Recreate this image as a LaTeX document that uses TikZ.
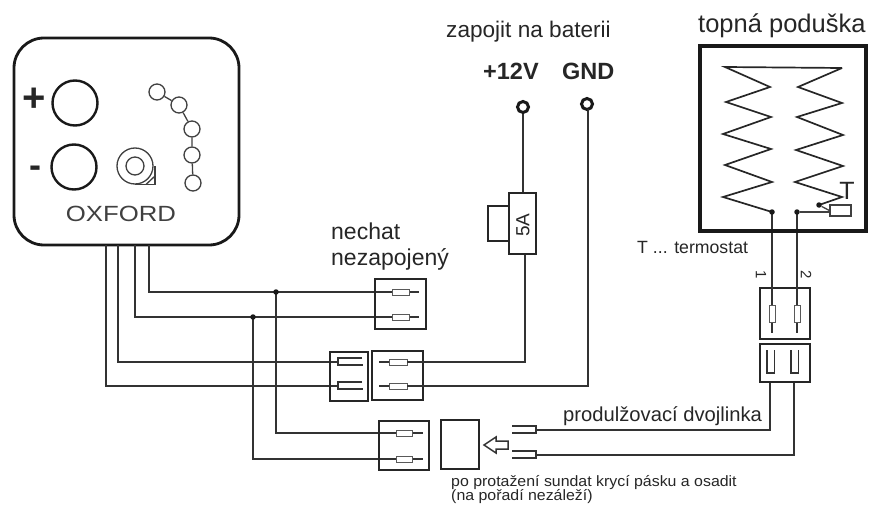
\documentclass[tikz,border=0pt]{standalone}
\usepackage{fontspec}
\setmainfont{Liberation Sans}
\newcommand{\fsz}[1]{\fontsize{#1}{#1}\selectfont}
\tikzset{
  x=1pt,y=-1pt,
  wire/.style={line width=1.5pt,draw=black!80},
  boxp/.style={line width=1.7pt,draw=black!85,fill=none},
  term/.style={line width=1pt,draw=black!65,fill=white},
  txt/.style={inner sep=0pt,text=black!85},
  lbl/.style={inner sep=0pt,text=black!85,anchor=base west},
  dotn/.style={circle,fill=black!90,inner sep=0pt,minimum size=5.5pt},
  ring/.style={circle,draw=black!90,line width=3pt,inner sep=0pt,minimum size=11pt},
  thin/.style={line width=1.3pt,draw=black!75},
  coil/.style={line width=1.7pt,draw=black!85,line join=miter},
}
\begin{document}
\begin{tikzpicture}
\useasboundingbox (0,0) rectangle (870,508);
% OXFORD unit
\draw[line width=2.8pt,draw=black!90,rounded corners=30pt] (14,38) rectangle (239,245);
\draw[line width=2.4pt,draw=black!90] (75,103) circle (22.5);
\draw[line width=2.4pt,draw=black!90] (74,167) circle (22.5);
\node[txt,font=\bfseries\fsz{40}] at (34,100) {+};
\node[txt,font=\bfseries\fsz{36}] at (35,172) {-};
\draw[thin] (135,166) circle (18);
\draw[thin] (135,166) circle (9);
\draw[thin] (135,184.5) -- (155,184.5) -- (155,166);
\draw[thin] (146,184.5) -- (155,176);
\foreach \n/\x/\y in {c1/157/92,c2/179/105,c3/192/129,c4/192/155,c5/193/183}
  \node[circle,draw=black!75,line width=1.3pt,inner sep=0pt,minimum size=16pt] (\n) at (\x,\y) {};
\draw[thin] (c1)--(c2) (c2)--(c3) (c3)--(c4) (c4)--(c5);
\node[txt,font=\fsz{22},xscale=1.17,text=black!75] (ox) at (121,214) {OXFORD};
% wires from unit
\coordinate (j1) at (276,292);
\coordinate (j2) at (253,317);
\draw[wire] (149,245) |- (392,292);
\draw[wire] (135,245) |- (392,317);
\draw[wire] (118,245) |- (338,362);
\draw[wire] (106,245) |- (338,386);
\draw[wire] (j1) |- (396,433);
\draw[wire] (j2) |- (396,459);
\node[dotn] at (j1) {};
\node[dotn] at (j2) {};
% connector 1
\draw[boxp] (375,279) rectangle (426,329);
\foreach \y in {292,317}{
  \draw[wire] (392,\y) -- (419,\y);
  \draw[term] (392,\y-3) rectangle (409,\y+3);
}
% connector 2
\draw[boxp] (330,352) rectangle (368,401);
\draw[boxp] (372,351) rectangle (423,400);
\foreach \y in {362,386}{
  \draw[wire] (362,\y-4) -- (338,\y-4) -- (338,\y+3) -- (363,\y+3);
  \draw[wire] (379,\y) -- (389,\y);
  \draw[term] (389,\y-3) rectangle (407,\y+3);
}
\draw[wire] (407,362) -| (525,254);
\draw[wire] (407,386) -| (588,109);
% connector 3
\draw[boxp] (379,421) rectangle (429,470);
\foreach \y in {433,459}{
  \draw[wire] (412,\y) -- (423,\y);
  \draw[term] (396,\y-3) rectangle (412,\y+3);
}
\draw[boxp] (441,420) rectangle (479,469);
% hollow arrow
\draw[wire] (484,445) -- (496,437) -- (496,441) -- (508,441) -- (508,449) -- (496,449) -- (496,453) -- cycle;
% loose fork ends
\foreach \y in {426,451}{
  \draw[wire] (512,\y) -- (536,\y) -- (536,\y+7) -- (512,\y+7);
}
\draw[wire] (536,430) -| (770,382);
\draw[wire] (536,455) -| (794,382);
% terminals
\node[ring] (t12) at (523,107) {};
\node[ring] (tg) at (587,104) {};
\draw[wire] (t12) -- (523,193);
\draw[wire] (tg) -- (588,109);
% fuse
\draw[boxp,line width=1.3pt] (488,206) rectangle (509,241);
\draw[boxp,line width=1.3pt] (509,193) rectangle (536,254);
\node[txt,font=\fsz{19},rotate=90] at (523,225) {5A};
% heating pad connectors
\draw[boxp] (760,288) rectangle (810,339);
\draw[boxp] (760,344) rectangle (810,382);
\foreach \x in {772,797}{
  \draw[wire] (\x,212) -- (\x,333);
  \draw[term] (\x-3,305) rectangle (\x+3,322);
}
\foreach \x in {767,791}{
  \draw[wire] (\x,350) -- (\x,373) -- (\x+7.5,373) -- (\x+7.5,350);
}
% pad
\draw[line width=3.5pt,draw=black!90] (700,46) rectangle (866,231);
\draw[coil] (842,68) -- (725,67) -- (770,87) -- (726,102) -- (771,117) -- (723,134) -- (771,149) -- (725,165) -- (772,182) -- (723,197) -- (772,212);
\draw[coil] (842,68) -- (798,87) -- (842,103) -- (797,117) -- (843,135) -- (796,150) -- (843,166) -- (795,182) -- (842,197) -- (819,205);
\node[dotn] (d1) at (772,212) {};
\node[dotn] (d2) at (797,212) {};
\node[dotn] (d3) at (819,205) {};
\node[draw=black!75,line width=1.3pt,fill=white,minimum width=21pt,minimum height=11pt,inner sep=0pt] (th) at (840.5,210.5) {};
\draw[thin] (d2) -- (th.west |- d2);
\draw[thin] (d3) -- (th.west);
\node[txt,font=\fsz{25}] at (847,191) {T};
% texts
\node[lbl,font=\fsz{22.6}] at (446,38) {zapojit na baterii};
\node[lbl,font=\bfseries\fsz{23.5}] at (483,80) {+12V};
\node[lbl,font=\bfseries\fsz{23.5}] at (562,80) {GND};
\node[lbl,font=\fsz{25.5}] at (698,33) {topná poduška};
\node[lbl,font=\fsz{23}] at (331,239) {nechat};
\node[lbl,font=\fsz{23}] at (331,265) {nezapojený};
\node[lbl,font=\fsz{17.7}] at (637,253) {T ... termostat};
\node[lbl,font=\fsz{20.2}] at (563,421) {produlžovací dvojlinka};
\node[lbl,font=\fsz{15},xscale=1.06] at (451,486) {po protažení sundat krycí pásku a osadit};
\node[lbl,font=\fsz{15},xscale=1.06] at (451,500) {(na pořadí nezáleží)};
\node[txt,font=\fsz{15},rotate=-90] at (761,275) {1};
\node[txt,font=\fsz{15},rotate=-90] at (806,275) {2};
\end{tikzpicture}
\end{document}
